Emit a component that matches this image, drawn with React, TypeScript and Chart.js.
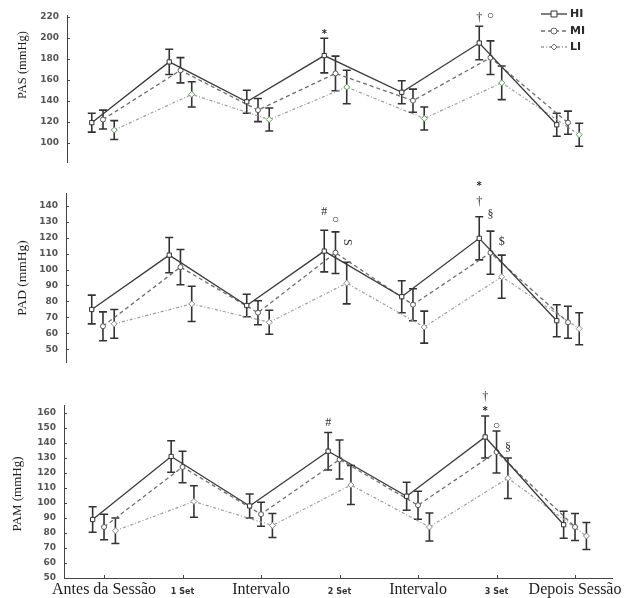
import React, { useEffect, useRef } from 'react';
import { Chart, registerables } from 'chart.js';

Chart.register(...registerables);

// ---------------- data ----------------
const CATEGORIES = ['Antes da Sessão', '1 Set', 'Intervalo', '2 Set', 'Intervalo', '3 Set', 'Depois Sessão'];
const SERIES_NAMES = ['HI', 'MI', 'LI'];

const PAS_TICKS = [100, 120, 140, 160, 180, 200, 220];
const PAD_TICKS = [50, 60, 70, 80, 90, 100, 110, 120, 130, 140];
const PAM_TICKS = [50, 60, 70, 80, 90, 100, 110, 120, 130, 140, 150, 160];

const PAS_HI = [119, 177, 139, 183, 148, 195, 117];
const PAS_MI = [122, 169, 131, 166, 140, 181, 119];
const PAS_LI = [112, 146, 122, 153, 123, 157, 107.5];
const PAS_HI_SD = [9, 12, 11, 16.5, 11, 16, 11];
const PAS_MI_SD = [9, 12, 11, 16.5, 11, 16, 11];
const PAS_LI_SD = [9, 12, 11, 16, 11, 16, 11];

const PAD_HI = [75, 109, 77.5, 111.5, 83, 119.5, 68];
const PAD_MI = [64.5, 101.5, 73, 110.5, 78, 110.5, 67];
const PAD_LI = [66, 78.5, 67, 91.5, 64, 95.5, 63];
const PAD_HI_SD = [9, 11, 7, 13, 10, 13.5, 10];
const PAD_MI_SD = [9, 11, 7.5, 13, 10, 13.5, 10];
const PAD_LI_SD = [9, 11, 7.5, 13, 10, 13.5, 10];

const PAM_HI = [89, 131, 98, 134.5, 104.5, 144, 85.5];
const PAM_MI = [84, 124, 92.5, 129, 98.5, 134, 84];
const PAM_LI = [81.5, 101, 85, 112, 84, 116.5, 78];
const PAM_HI_SD = [8.5, 10.5, 8, 12.5, 9.3, 14, 9];
const PAM_MI_SD = [8.5, 10.5, 8, 13, 9.3, 14, 9];
const PAM_LI_SD = [8.5, 10.5, 8, 13, 9.3, 13.5, 9];

// significance marks: [category index, series index, value, symbol]
const PAS_MARKS: [number, number, number, string][] = [
  [3, 0, 203, '*'],
  [5, 0, 219, '†'],
  [5, 1, 220, '◦'],
];
const PAD_MARKS: [number, number, number, string][] = [
  [3, 0, 136, '#'],
  [3, 1, 130.5, '◦'],
  [3, 2, 117, 'S'],
  [5, 0, 152, '*'],
  [5, 0, 142, '†'],
  [5, 1, 134, '§'],
  [5, 2, 117, '$'],
];
const PAM_MARKS: [number, number, number, string][] = [
  [3, 0, 153.3, '#'],
  [5, 0, 171, '†'],
  [5, 0, 161.3, '*'],
  [5, 1, 150.7, '◦'],
  [5, 2, 136.7, '§'],
];

// ---------------- styles / layout ----------------
const SERIES_OFFSET = [-0.145, 0, 0.145];

const STYLES = [
  { color: '#3a3a3a', dash: [] as number[], pointStyle: 'rect', radius: 3, width: 1.3 },
  { color: '#6e6e6e', dash: [4, 3], pointStyle: 'circle', radius: 2.5, width: 1.3 },
  { color: '#9c9c9c', dash: [3, 2, 1, 2], pointStyle: 'rectRot', radius: 3, width: 1.2 },
];

type PanelCfg = {
  title: string;
  titleFont: string;
  titlePos: [number, number];
  means: number[][];
  sds: number[][];
  ticks: number[];
  marks: [number, number, number, string][];
  yMin: number;
  yMax: number;
  xMin: number;
  xMax: number;
  top: number;
  height: number;
  left: number;
  padTop: number;
  padBottom: number;
  bottomAxis: boolean;
  legend: boolean;
  liPointColor: string;
};

const PANELS: PanelCfg[] = [
  {
    title: 'PAS (mmHg)', titleFont: '12.5px "Liberation Serif"', titlePos: [23, 65],
    means: [PAS_HI, PAS_MI, PAS_LI], sds: [PAS_HI_SD, PAS_MI_SD, PAS_LI_SD],
    ticks: PAS_TICKS, marks: PAS_MARKS,
    yMin: 81.5, yMax: 221.7, xMin: -0.4645, xMax: 6.568,
    top: 0, height: 190, left: 67, padTop: 15, padBottom: 8,
    bottomAxis: false, legend: true, liPointColor: '#5a9c5a',
  },
  {
    title: 'PAD (mmHg)', titleFont: '13.5px "Liberation Serif"', titlePos: [22, 100],
    means: [PAD_HI, PAD_MI, PAD_LI], sds: [PAD_HI_SD, PAD_MI_SD, PAD_LI_SD],
    ticks: PAD_TICKS, marks: PAD_MARKS,
    yMin: 42.17, yMax: 147.83, xMin: -0.477, xMax: 6.568,
    top: 178, height: 212, left: 66, padTop: 15, padBottom: 8,
    bottomAxis: false, legend: false, liPointColor: '#8a8a8a',
  },
  {
    title: 'PAM (mmHg)', titleFont: '13px "Liberation Serif"', titlePos: [18, 109],
    means: [PAM_HI, PAM_MI, PAM_LI], sds: [PAM_HI_SD, PAM_MI_SD, PAM_LI_SD],
    ticks: PAM_TICKS, marks: PAM_MARKS,
    yMin: 50, yMax: 165.3, xMin: -0.51, xMax: 6.471,
    top: 385, height: 213, left: 64, padTop: 20, padBottom: 0,
    bottomAxis: true, legend: false, liPointColor: '#8a8a8a',
  },
];

function drawMarker(ctx: CanvasRenderingContext2D, style: string, x: number, y: number, r: number) {
  ctx.beginPath();
  if (style === 'rect') {
    const s = r * Math.SQRT1_2;
    ctx.rect(x - s, y - s, 2 * s, 2 * s);
  } else if (style === 'circle') {
    ctx.arc(x, y, r, 0, Math.PI * 2);
  } else {
    ctx.moveTo(x, y - r);
    ctx.lineTo(x + r, y);
    ctx.lineTo(x, y + r);
    ctx.lineTo(x - r, y);
    ctx.closePath();
  }
  ctx.fill();
  ctx.stroke();
}

function createChart(canvas: HTMLCanvasElement, p: PanelCfg) {
  const errorBars = {
    id: 'errorBars',
    beforeDatasetsDraw(chart: any) {
      const { ctx } = chart;
      const ys = chart.scales.y;
      ctx.save();
      ctx.strokeStyle = '#333';
      ctx.lineWidth = 1.6;
      ctx.setLineDash([]);
      p.means.forEach((arr, s) => {
        const meta = chart.getDatasetMeta(s);
        arr.forEach((v, i) => {
          const el = meta.data[i];
          if (!el) return;
          const x = el.x;
          const yt = ys.getPixelForValue(v + p.sds[s][i]);
          const yb = ys.getPixelForValue(v - p.sds[s][i]);
          ctx.beginPath();
          ctx.moveTo(x, yt);
          ctx.lineTo(x, yb);
          ctx.moveTo(x - 4, yt);
          ctx.lineTo(x + 4, yt);
          ctx.moveTo(x - 4, yb);
          ctx.lineTo(x + 4, yb);
          ctx.stroke();
        });
      });
      ctx.restore();
    },
  };

  const extras = {
    id: 'extras',
    afterDraw(chart: any) {
      const { ctx } = chart;
      const xs = chart.scales.x;
      const ys = chart.scales.y;
      const area = chart.chartArea;
      ctx.save();
      // inward tick marks
      ctx.strokeStyle = '#444';
      ctx.lineWidth = 1;
      ctx.beginPath();
      p.ticks.forEach((t) => {
        const py = Math.round(ys.getPixelForValue(t)) + 0.5;
        ctx.moveTo(area.left, py);
        ctx.lineTo(area.left + 3, py);
      });
      if (p.bottomAxis) {
        CATEGORIES.forEach((_, i) => {
          const px = Math.round(xs.getPixelForValue(i)) + 0.5;
          ctx.moveTo(px, area.bottom);
          ctx.lineTo(px, area.bottom - 3);
        });
      }
      ctx.stroke();

      // significance marks
      ctx.fillStyle = '#2a2a2a';
      ctx.textAlign = 'center';
      ctx.textBaseline = 'middle';
      p.marks.forEach(([c, s, v, sym]) => {
        const x = xs.getPixelForValue(c + SERIES_OFFSET[s]);
        const y = ys.getPixelForValue(v);
        if (sym === '*') {
          ctx.font = 'bold 10px "DejaVu Sans"';
        } else if (sym === '◦') {
          ctx.font = 'bold 15px "DejaVu Sans"';
        } else {
          ctx.font = '12px "Liberation Serif"';
        }
        if (sym === 'S') {
          ctx.save();
          ctx.translate(x, y);
          ctx.rotate(Math.PI / 2);
          ctx.fillText(sym, 0, 0);
          ctx.restore();
        } else {
          ctx.fillText(sym, x, y);
        }
      });

      // y-axis title
      ctx.save();
      ctx.translate(p.titlePos[0], p.titlePos[1]);
      ctx.rotate(-Math.PI / 2);
      ctx.font = p.titleFont;
      ctx.fillStyle = '#1e1e1e';
      ctx.fillText(p.title, 0, 0);
      ctx.restore();

      // legend
      if (p.legend) {
        const ysL = [14, 31, 47];
        SERIES_NAMES.forEach((name, s) => {
          const st = STYLES[s];
          const y = ysL[s];
          ctx.strokeStyle = st.color;
          ctx.lineWidth = 1.3;
          ctx.setLineDash(st.dash);
          ctx.beginPath();
          ctx.moveTo(541, y);
          ctx.lineTo(567, y);
          ctx.stroke();
          ctx.setLineDash([]);
          ctx.fillStyle = '#fff';
          ctx.strokeStyle = s === 0 ? '#333' : '#666';
          ctx.lineWidth = 1;
          drawMarker(ctx, st.pointStyle, 554, y, s === 0 ? 4.2 : 3);
          ctx.fillStyle = '#2a2a2a';
          ctx.font = 'bold 11px "DejaVu Sans"';
          ctx.textAlign = 'left';
          ctx.fillText(name, 570, y + 0.5);
        });
      }
      ctx.restore();
    },
  };

  const datasets = SERIES_NAMES.map((name, s) => ({
    label: name,
    data: p.means[s].map((v, i) => ({ x: i + SERIES_OFFSET[s], y: v })),
    borderColor: STYLES[s].color,
    borderWidth: STYLES[s].width,
    borderDash: STYLES[s].dash,
    pointStyle: STYLES[s].pointStyle as any,
    pointRadius: STYLES[s].radius,
    pointBackgroundColor: '#ffffff',
    pointBorderColor: s === 2 ? p.liPointColor : s === 1 ? '#555' : '#333',
    pointBorderWidth: 1,
    fill: false,
    tension: 0,
  }));

  const bigFont = { family: '"Liberation Serif"', size: 16, weight: 'normal' as const, lineHeight: 1.2 };
  const smallFont = { family: '"DejaVu Sans"', size: 8, weight: 'bold' as const, lineHeight: 3 };

  return new Chart(canvas, {
    type: 'line',
    data: { datasets },
    options: {
      responsive: false,
      animation: false,
      layout: { padding: { top: p.padTop, bottom: p.padBottom, left: 0, right: 13 } },
      plugins: { legend: { display: false }, tooltip: { enabled: false } },
      scales: {
        x: {
          type: 'linear',
          min: p.xMin,
          max: p.xMax,
          display: p.bottomAxis,
          afterBuildTicks: (scale: any) => {
            scale.ticks = CATEGORIES.map((_, i) => ({ value: i }));
          },
          afterFit: (scale: any) => {
            scale.height = 20;
          },
          ticks: {
            autoSkip: false,
            maxRotation: 0,
            minRotation: 0,
            padding: 2,
            color: (c: any) => (c.index % 2 === 0 ? '#1e1e1e' : '#333'),
            font: (c: any) => (c.index % 2 === 0 ? bigFont : smallFont),
            callback: (_v: any, i: number) => CATEGORIES[i],
          },
          grid: { display: false, drawTicks: false },
          border: { display: true, color: '#444', width: 1 },
        },
        y: {
          type: 'linear',
          min: p.yMin,
          max: p.yMax,
          afterBuildTicks: (scale: any) => {
            scale.ticks = p.ticks.map((v) => ({ value: v }));
          },
          afterFit: (scale: any) => {
            scale.width = p.left;
          },
          ticks: {
            padding: 8,
            color: '#555',
            font: { family: '"DejaVu Sans"', size: 9, weight: 'bold' },
          },
          grid: { display: false, drawTicks: false },
          border: { display: true, color: '#444', width: 1 },
        },
      },
    } as any,
    plugins: [errorBars, extras],
  });
}

export default function App() {
  const r0 = useRef<HTMLCanvasElement>(null);
  const r1 = useRef<HTMLCanvasElement>(null);
  const r2 = useRef<HTMLCanvasElement>(null);
  const refs = [r0, r1, r2];

  useEffect(() => {
    const charts = PANELS.map((p, i) => createChart(refs[i].current as HTMLCanvasElement, p));
    return () => charts.forEach((c) => c.destroy());
  }, []);

  return (
    <div style={{ position: 'absolute', left: 0, top: 0, width: 625, height: 598, background: '#fff', overflow: 'hidden' }}>
      {PANELS.map((p, i) => (
        <canvas
          key={i}
          ref={refs[i]}
          width={625}
          height={p.height}
          style={{ position: 'absolute', left: 0, top: p.top, width: 625, height: p.height }}
        />
      ))}
    </div>
  );
}
